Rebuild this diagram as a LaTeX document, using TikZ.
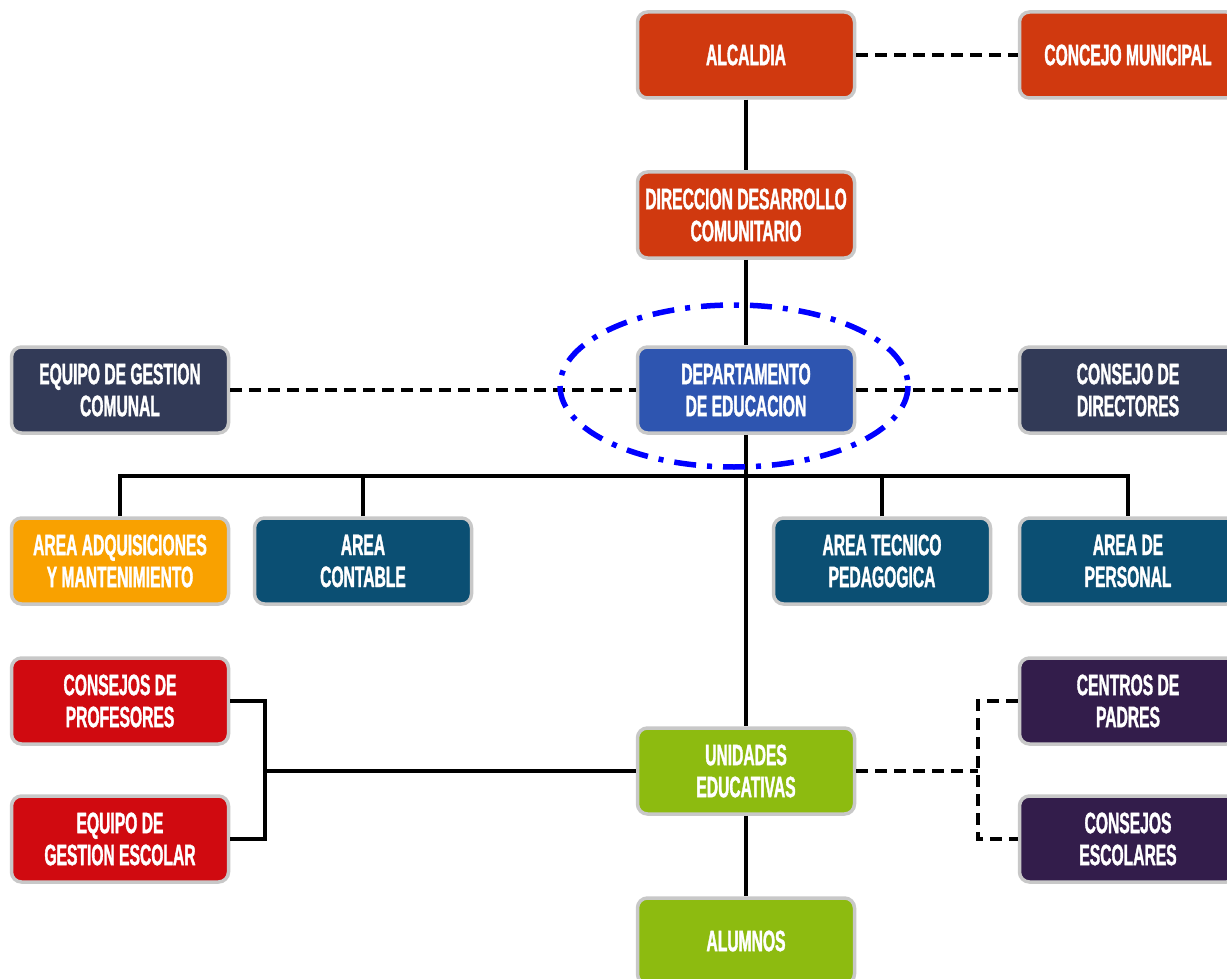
\documentclass[tikz,border=0pt]{standalone}
\usepackage{fontspec}
\newfontfamily\boxfont[FakeStretch=0.53,FakeBold=1.2]{Liberation Sans}
\definecolor{cRedOr}{HTML}{D0390F}
\definecolor{cBlue}{HTML}{2E55B0}
\definecolor{cSlate}{HTML}{323A57}
\definecolor{cOrange}{HTML}{F9A100}
\definecolor{cTeal}{HTML}{0B4F73}
\definecolor{cRed}{HTML}{D00A10}
\definecolor{cGreen}{HTML}{8DBB10}
\definecolor{cPurple}{HTML}{331D4B}
\definecolor{cBorder}{HTML}{C8C8C8}
\begin{document}
\begin{tikzpicture}[x=1pt,y=-1pt,
  box/.style={draw=cBorder, line width=3.5pt, rounded corners=10pt,
    minimum width=217pt, minimum height=86pt, inner sep=0pt, align=center,
    text=white, font=\boxfont\bfseries\fontsize{29.5}{32}\selectfont},
  conn/.style={line width=3.8pt, black},
  dconn/.style={line width=4pt, black, dash pattern=on 12pt off 7pt},
  focus/.style={line width=5.5pt, blue, dash pattern=on 22pt off 11pt on 5pt off 11pt}]
\useasboundingbox (0,0) rectangle (1227,979);
\clip (0,0) rectangle (1227,979);
\fill[white] (0,0) rectangle (1227,979);
% nodes
\node[box, fill=cRedOr] (alc) at (746,55) {ALCALDIA};
\node[box, fill=cRedOr] (conc) at (1128,55) {CONCEJO MUNICIPAL};
\node[box, fill=cRedOr] (dir) at (746,215) {DIRECCION DESARROLLO\\COMUNITARIO};
\node[box, fill=cBlue] (dep) at (746,390) {DEPARTAMENTO\\DE EDUCACION};
\node[box, fill=cSlate] (egc) at (120,390) {EQUIPO DE GESTION\\COMUNAL};
\node[box, fill=cSlate] (cdir) at (1128,390) {CONSEJO DE\\DIRECTORES};
\node[box, fill=cOrange] (adq) at (120,561) {AREA ADQUISICIONES\\Y MANTENIMIENTO};
\node[box, fill=cTeal] (cont) at (363,561) {AREA\\CONTABLE};
\node[box, fill=cTeal] (tec) at (882,561) {AREA TECNICO\\PEDAGOGICA};
\node[box, fill=cTeal] (pers) at (1128,561) {AREA DE\\PERSONAL};
\node[box, fill=cRed] (prof) at (120,701) {CONSEJOS DE\\PROFESORES};
\node[box, fill=cRed] (ges) at (120,839) {EQUIPO DE\\GESTION ESCOLAR};
\node[box, fill=cGreen] (uni) at (746,771) {UNIDADES\\EDUCATIVAS};
\node[box, fill=cPurple] (pad) at (1128,701) {CENTROS DE\\PADRES};
\node[box, fill=cPurple] (esc) at (1128,839) {CONSEJOS\\ESCOLARES};
\node[box, fill=cGreen] (alu) at (746,941) {ALUMNOS};
% coordinates
\coordinate (bus) at (746,476);
\coordinate (lb) at (265,771);
\coordinate (rb) at (978,771);
% connectors
\draw[conn] (alc) -- (dir);
\draw[conn] (dir) -- (dep);
\draw[conn] (dep) -- (uni);
\draw[conn] (uni) -- (alu);
\draw[conn] (adq.north) |- (bus) -| (pers.north);
\draw[conn] (cont.north) -- (cont.north |- bus);
\draw[conn] (tec.north) -- (tec.north |- bus);
\draw[conn] (prof.east) -| (lb) |- (ges.east);
\draw[conn] (lb) -- (uni.west);
\draw[dconn] (alc) -- (conc);
\draw[dconn] (egc) -- (dep);
\draw[dconn] (dep) -- (cdir);
\draw[dconn] (uni.east) -- (rb);
\draw[dconn] (pad.west) -| (rb) |- (esc.west);
% focus ellipse
\draw[focus] (734,386) ellipse [x radius=174, y radius=81];
\end{tikzpicture}
\end{document}
